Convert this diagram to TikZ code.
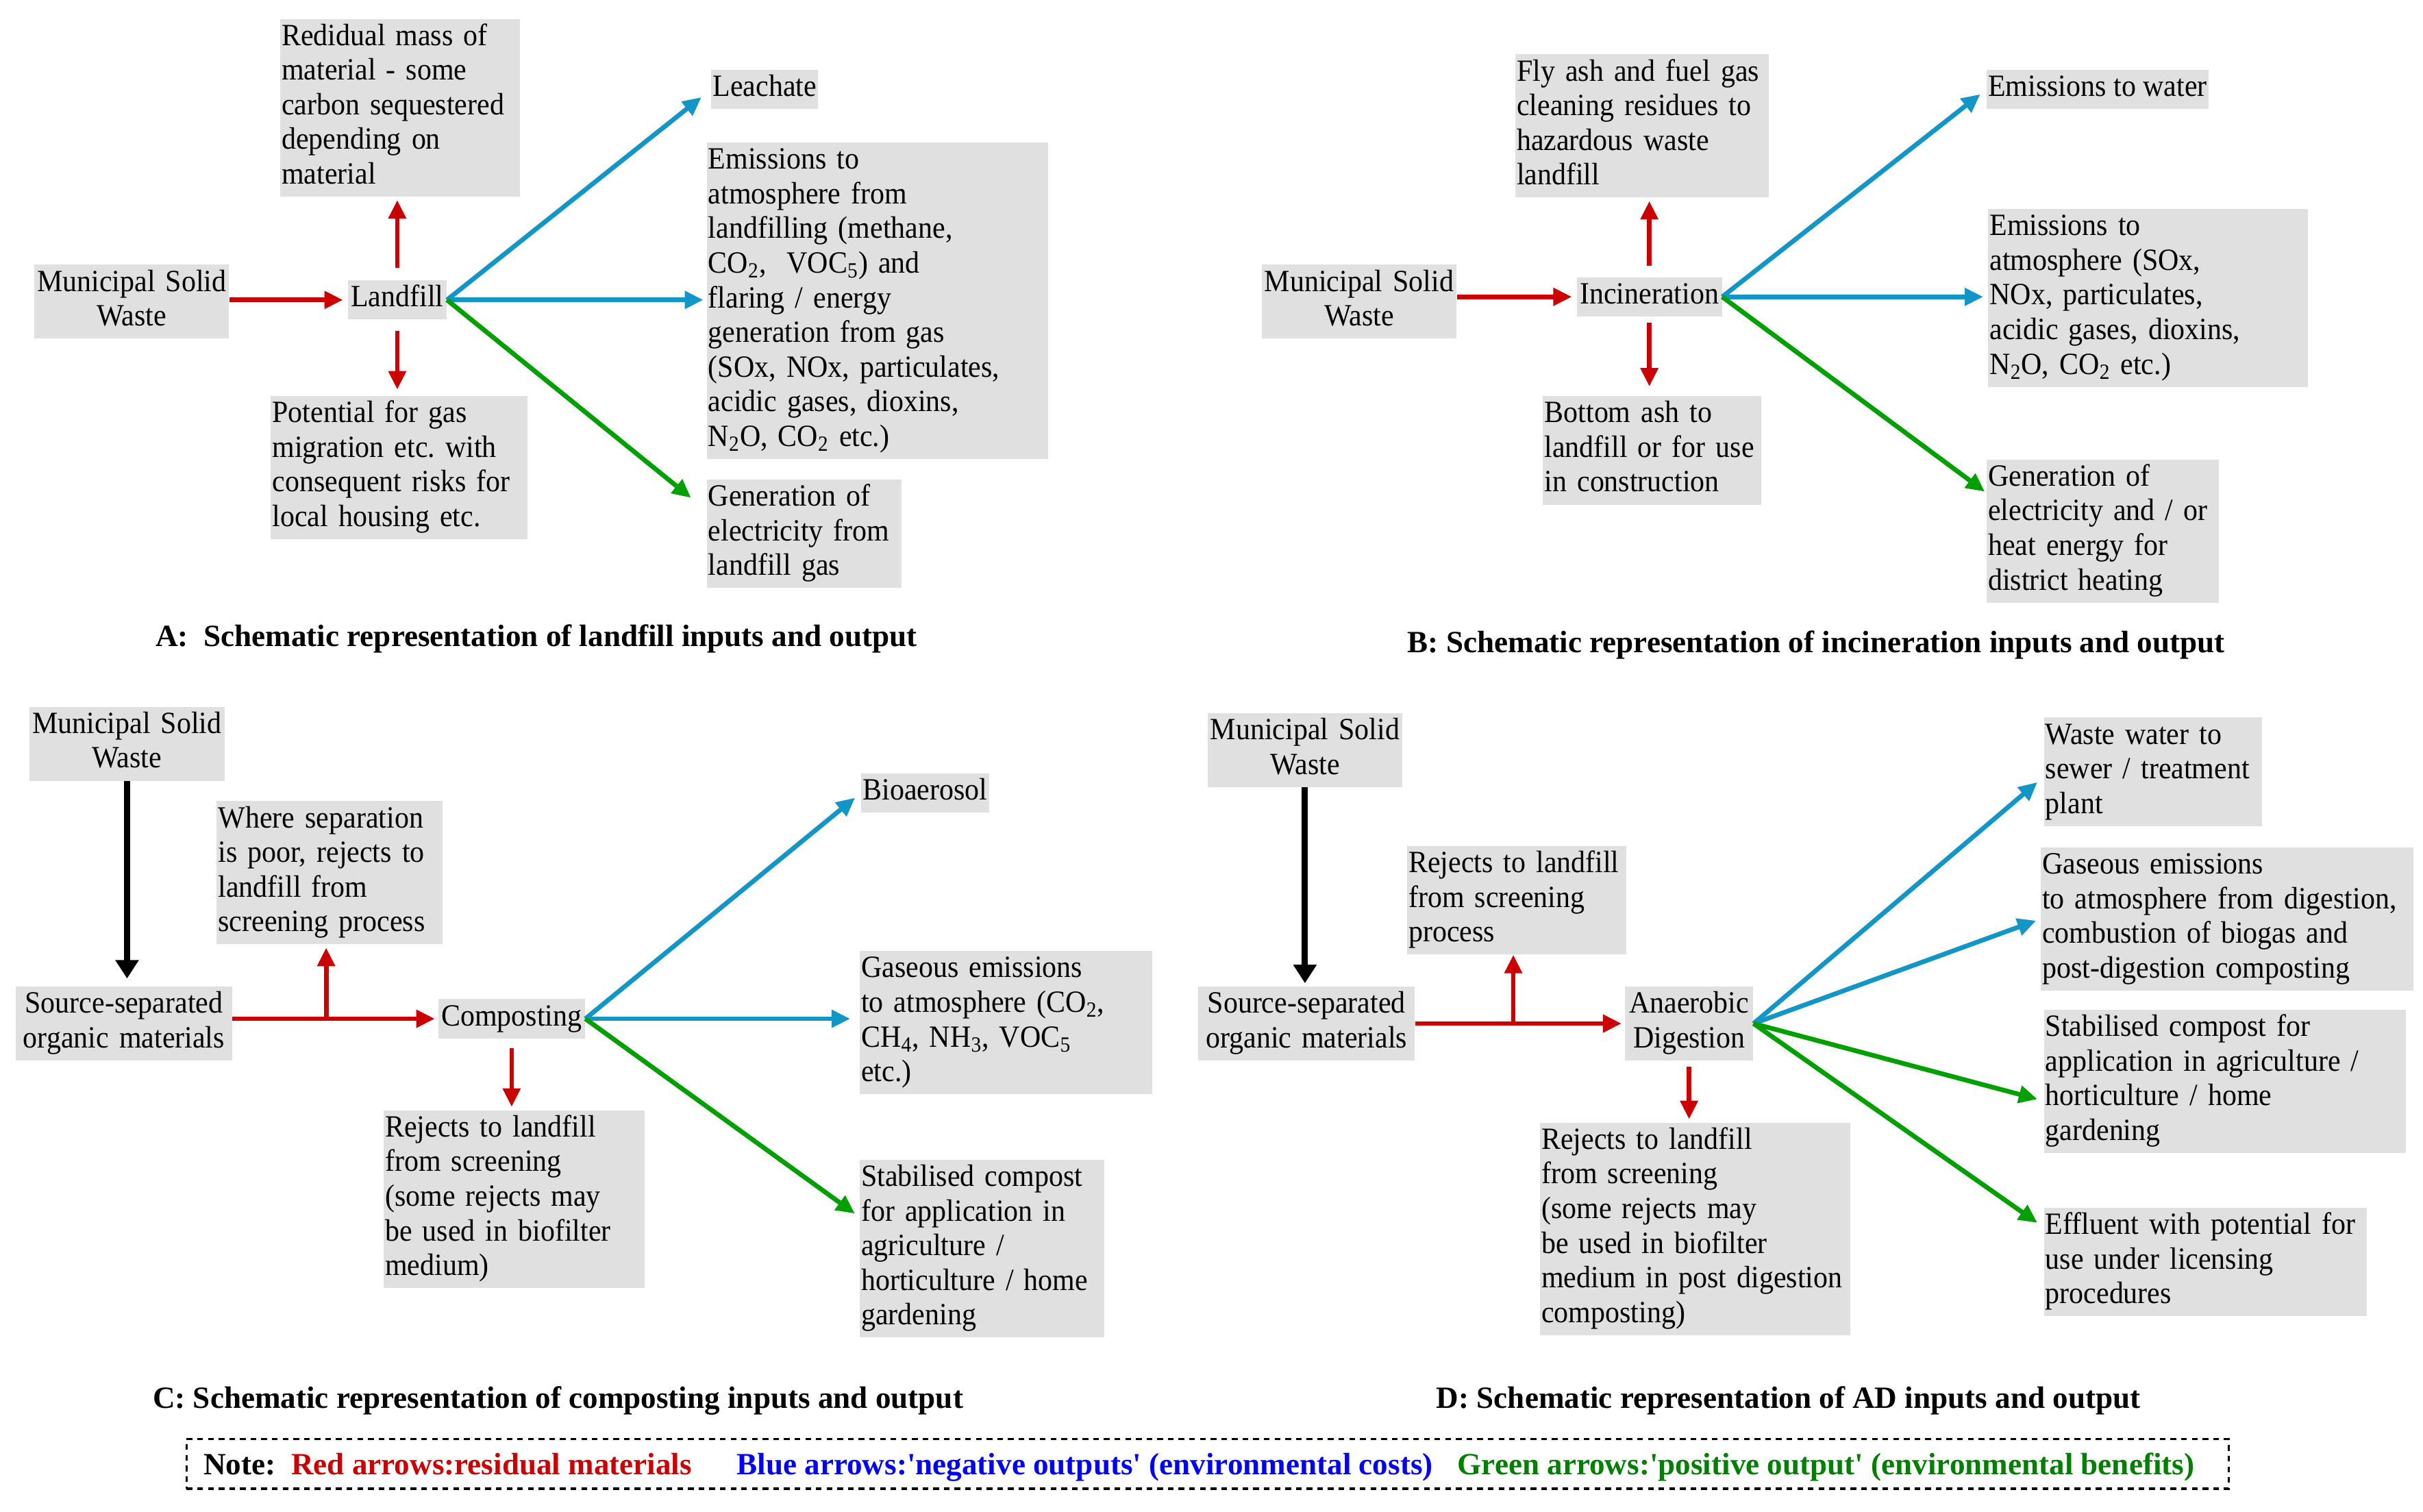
\documentclass[tikz,border=0pt]{standalone}
\usepackage{fontspec}
\setmainfont{Liberation Serif}[FakeStretch=0.93]
\newfontfamily\capfont{Liberation Serif}
\usetikzlibrary{arrows.meta}
\definecolor{boxgray}{RGB}{224,224,224}
\definecolor{resred}{RGB}{204,0,0}
\definecolor{negblue}{RGB}{18,150,200}
\definecolor{posgreen}{RGB}{0,160,0}
\definecolor{notegreen}{RGB}{0,128,0}

\begin{document}
\frenchspacing
\begin{tikzpicture}[x=1pt, y=-1pt,
    font=\fontsize{20}{22.4}\selectfont,
    txt/.style={fill=boxgray, inner xsep=1pt, inner ysep=1.5pt, align=left, anchor=north west,
      execute at begin node=\strut, execute at end node=\strut},
    ctxt/.style={txt, align=center},
    proc/.style={txt, anchor=center, inner xsep=2pt},
    arr/.style={line width=3pt, -{Triangle[length=12pt,width=11pt]}},
    redarr/.style={arr, resred},
    bluearr/.style={arr, negblue},
    greenarr/.style={arr, posgreen},
    blackarr/.style={line width=4pt, -{Triangle[length=12pt,width=14.5pt]}},
    caption/.style={font=\capfont\fontsize{20}{22.4}\selectfont\bfseries}]
    \useasboundingbox (0,0) rectangle (1567.5,978);

    % A: landfill
    \node[ctxt, text width=124pt] (mswA) at (22,171) {Municipal Solid\\Waste};
    \node[proc] (lf) at (257,194) {Landfill};
    \node[txt, text width=153pt] (resA) at (181,12) {Redidual mass of\\material - some\\carbon sequestered\\depending on\\material};
    \node[txt, text width=164pt] (potA) at (175,256) {Potential for gas\\migration etc. with\\consequent risks for\\local housing etc.};
    \node[txt] (leachA) at (460,45) {Leachate};
    \node[txt, text width=219pt] (emisA) at (457,92) {Emissions to\\atmosphere from\\landfilling (methane,\\CO\textsubscript{2},\ \ VOC\textsubscript{5}) and\\flaring / energy\\generation from gas\\(SOx, NOx, particulates,\\acidic gases, dioxins,\\N\textsubscript{2}O, CO\textsubscript{2} etc.)};
    \node[txt, text width=124pt] (genA) at (457,310) {Generation of\\electricity from\\landfill gas};
    \node[caption] (capA) at (347,413) {A:\ \ Schematic representation of landfill inputs and output};

    \draw[redarr, shorten >=3pt] (mswA.east |- lf) -- (lf.west);
    \draw[redarr, shorten <=8pt, shorten >=2pt] (lf.north) -- (lf.north |- resA.south);
    \draw[redarr, shorten <=7pt, shorten >=4pt] (lf.south) -- (lf.south |- potA.north);
    \draw[bluearr, shorten >=8pt] (lf.east) -- (leachA.west);
    \draw[bluearr, shorten >=2pt] (lf.east) -- (lf.east -| emisA.west);
    \draw[greenarr] (lf.east) -- ([shift={(-10,12)}]genA.north west);

    % B: incineration
    \node[ctxt, text width=124pt] (mswB) at (816,171) {Municipal Solid\\Waste};
    \node[proc] (inc) at (1067,192) {Incineration};
    \node[txt, text width=162pt] (flyB) at (980,35) {Fly ash and fuel gas\\cleaning residues to\\hazardous waste\\landfill};
    \node[txt, text width=139pt] (botB) at (998,256) {Bottom ash to\\landfill or for use\\in construction};
    \node[txt] (watB) at (1285,45) {Emissions to water};
    \node[txt, text width=205pt] (atmB) at (1286,135) {Emissions to\\atmosphere (SOx,\\NOx, particulates,\\acidic gases, dioxins,\\N\textsubscript{2}O, CO\textsubscript{2} etc.)};
    \node[txt, text width=148pt] (genB) at (1285,297) {Generation of\\electricity and / or\\heat energy for\\district heating};
    \node[caption] (capB) at (1175,417) {B: Schematic representation of incineration inputs and output};

    \draw[redarr, shorten >=3pt] (mswB.east |- inc) -- (inc.west);
    \draw[redarr, shorten <=7pt, shorten >=2pt] (inc.north) -- (inc.north |- flyB.south);
    \draw[redarr, shorten <=4pt, shorten >=6pt] (inc.south) -- (inc.south |- botB.north);
    \draw[bluearr, shorten >=5pt] (inc.east) -- (watB.west);
    \draw[bluearr, shorten >=3pt] (inc.east) -- (inc.east -| atmB.west);
    \draw[greenarr] (inc.east) -- ([shift={(-1,21)}]genB.north west);

    % C: composting
    \node[ctxt, text width=124pt] (mswC) at (19,457) {Municipal Solid\\Waste};
    \node[ctxt, text width=138pt] (srcC) at (10,638) {Source-separated\\organic materials};
    \node[proc] (comp) at (331,659) {Composting};
    \node[txt, text width=144pt] (sepC) at (140,518) {Where separation\\is poor, rejects to\\landfill from\\screening process};
    \node[txt, text width=167pt] (rejC) at (248,718) {Rejects to landfill\\from screening\\(some rejects may\\be used in biofilter\\medium)};
    \node[txt] (bioC) at (557,500) {Bioaerosol};
    \node[txt, text width=187pt] (gasC) at (556,615) {Gaseous emissions\\to atmosphere (CO\textsubscript{2},\\CH\textsubscript{4}, NH\textsubscript{3}, VOC\textsubscript{5}\\etc.)};
    \node[txt, text width=156pt] (stabC) at (556,750) {Stabilised compost\\for application in\\agriculture /\\horticulture / home\\gardening};
    \coordinate (jC) at (211,659);
    \node[caption] (capC) at (361,906) {C: Schematic representation of composting inputs and output};

    \draw[blackarr, shorten >=5pt] (mswC.south) -- (mswC.south |- srcC.north);
    \draw[redarr, shorten >=2pt] (srcC.east |- comp) -- (comp.west);
    \draw[redarr, shorten >=2pt] (jC) -- (jC |- sepC.south);
    \draw[redarr, shorten <=6pt, shorten >=2pt] (comp.south) -- (comp.south |- rejC.north);
    \draw[bluearr, shorten >=5pt] (comp.east) -- (bioC.west);
    \draw[bluearr, shorten >=6pt] (comp.east) -- (comp.east -| gasC.west);
    \draw[greenarr] (comp.east) -- ([shift={(-3,35)}]stabC.north west);

    % D: anaerobic digestion
    \node[ctxt, text width=124pt] (mswD) at (781,461) {Municipal Solid\\Waste};
    \node[ctxt, text width=138pt] (srcD) at (775,638) {Source-separated\\organic materials};
    \node[ctxt, text width=81pt] (ad) at (1051,638) {Anaerobic\\Digestion};
    \node[txt, text width=140pt] (scrD) at (910,547) {Rejects to landfill\\from screening\\process};
    \node[txt, text width=199pt] (rejD) at (996,726) {Rejects to landfill\\from screening\\(some rejects may\\be used in biofilter\\medium in post digestion\\composting)};
    \node[txt, text width=139pt] (wwD) at (1322,464) {Waste water to\\sewer / treatment\\plant};
    \node[txt, text width=239pt] (gasD) at (1320,548) {Gaseous emissions\\to atmosphere from digestion,\\combustion of biogas and\\post-digestion composting};
    \node[txt, text width=232pt] (stabD) at (1322,653) {Stabilised compost for\\application in agriculture /\\horticulture / home\\gardening};
    \node[txt, text width=207pt] (effD) at (1322,781) {Effluent with potential for\\use under licensing\\procedures};
    \coordinate (jD) at (979,661);
    \node[caption] (capD) at (1157,906) {D: Schematic representation of AD inputs and output};

    \draw[blackarr, shorten >=2pt] (mswD.south) -- (mswD.south |- srcD.north);
    \draw[redarr, shorten >=2pt] (srcD.east |- ad) -- (ad.west);
    \draw[redarr] (jD) -- (jD |- scrD.south);
    \draw[redarr, shorten <=4pt, shorten >=2pt] (ad.south) -- (ad.south |- rejD.north);
    \draw[bluearr] (ad.east) -- ([shift={(-4,42)}]wwD.north west);
    \draw[bluearr, shorten >=3pt] (ad.east) -- (gasD.west);
    \draw[greenarr] (ad.east) -- ([shift={(-4,58)}]stabD.north west);
    \draw[greenarr] (ad.east) -- ([shift={(-4,10)}]effD.north west);

    % key
    \node[draw, line width=1.5pt, dash pattern=on 3.7pt off 3.2pt, anchor=west,
      minimum height=32pt, inner xsep=11pt, inner ysep=0pt, text depth=0.5pt,
      font=\capfont\fontsize{20}{22.4}\selectfont\bfseries] (note) at (120,947)
      {\makebox[1299pt][l]{Note:\hspace{5pt} \textcolor{resred}{Red arrows:residual materials}\hspace{29pt}\textcolor{blue}{Blue arrows:\textquotesingle negative outputs\textquotesingle\ (environmental costs)}\hspace{16pt}\textcolor{notegreen}{Green arrows:\textquotesingle positive output\textquotesingle\ (environmental benefits)}}};
\end{tikzpicture}
\end{document}
